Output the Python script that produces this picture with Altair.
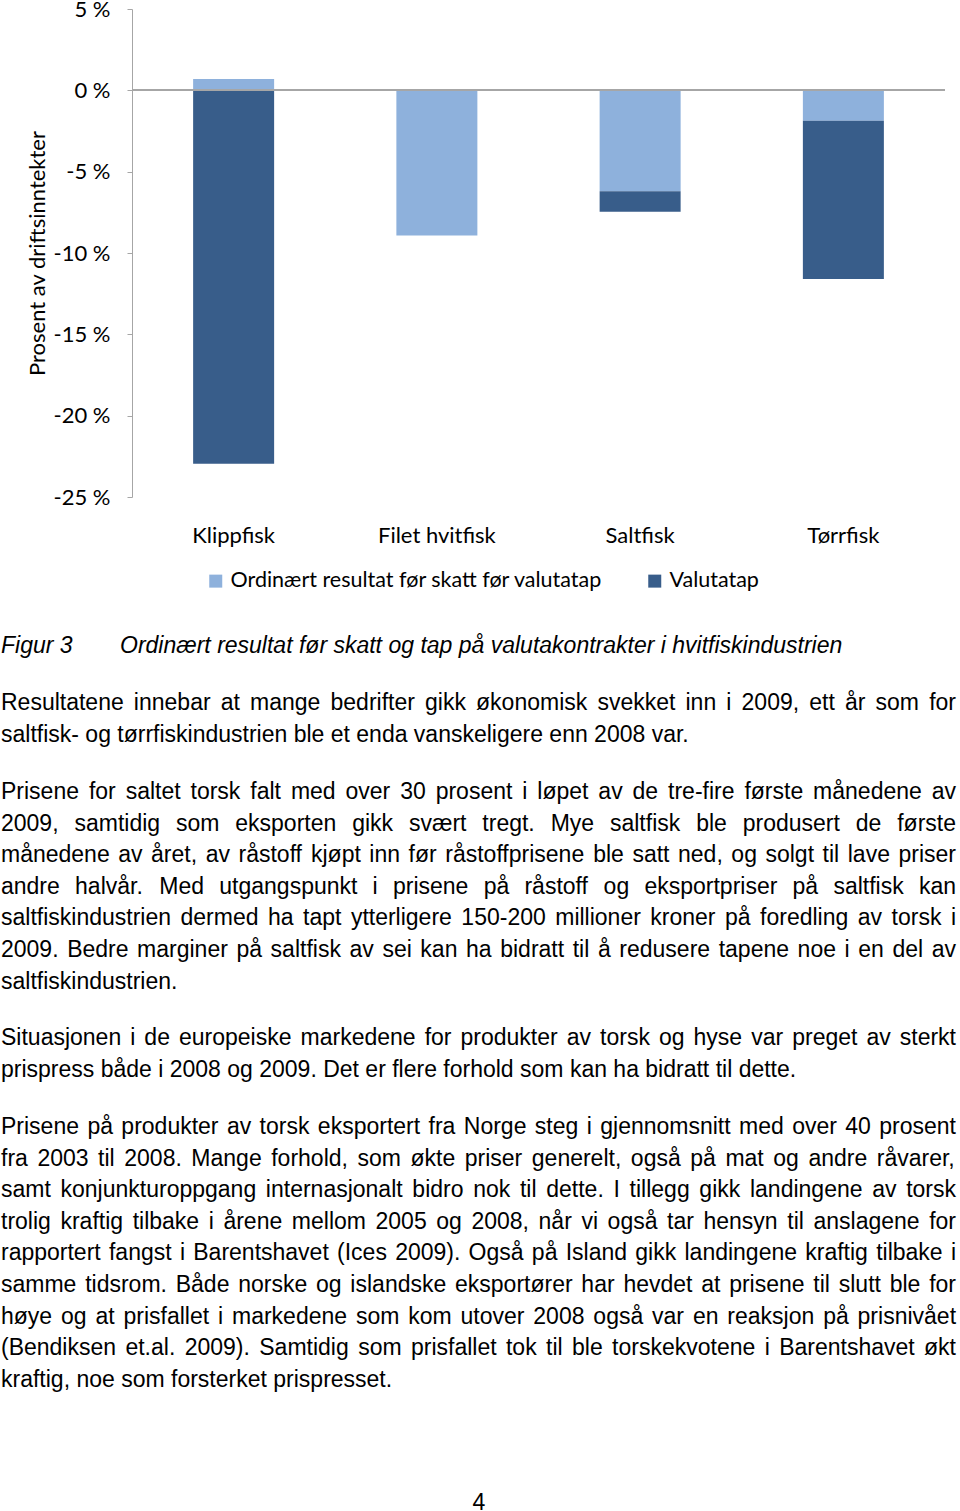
import altair as alt
import pandas as pd

# ---------------- data ----------------
categories = ["Klippfisk", "Filet hvitfisk", "Saltfisk", "Tørrfisk"]
series = ["Ordinært resultat før skatt før valutatap", "Valutatap"]
ordinaert = [0.7, -8.93, -6.2, -1.87]
valutatap = [-22.96, 0.0, -1.26, -9.73]
y_ticks = [5, 0, -5, -10, -15, -20, -25]
colors = ["#8EB1DC", "#385D8A"]

caption_label = "Figur 3"
caption_text = "Ordinært resultat før skatt og tap på valutakontrakter i hvitfiskindustrien"

paragraphs = [
    ["Resultatene innebar at mange bedrifter gikk økonomisk svekket inn i 2009, ett år som for",
     "saltfisk- og tørrfiskindustrien ble et enda vanskeligere enn 2008 var."],
    ["Prisene for saltet torsk falt med over 30 prosent i løpet av de tre-fire første månedene av",
     "2009, samtidig som eksporten gikk svært tregt. Mye saltfisk ble produsert de første",
     "månedene av året, av råstoff kjøpt inn før råstoffprisene ble satt ned, og solgt til lave priser",
     "andre halvår. Med utgangspunkt i prisene på råstoff og eksportpriser på saltfisk kan",
     "saltfiskindustrien dermed ha tapt ytterligere 150-200 millioner kroner på foredling av torsk i",
     "2009. Bedre marginer på saltfisk av sei kan ha bidratt til å redusere tapene noe i en del av",
     "saltfiskindustrien."],
    ["Situasjonen i de europeiske markedene for produkter av torsk og hyse var preget av sterkt",
     "prispress både i 2008 og 2009. Det er flere forhold som kan ha bidratt til dette."],
    ["Prisene på produkter av torsk eksportert fra Norge steg i gjennomsnitt med over 40 prosent",
     "fra 2003 til 2008. Mange forhold, som økte priser generelt, også på mat og andre råvarer,",
     "samt konjunkturoppgang internasjonalt bidro nok til dette. I tillegg gikk landingene av torsk",
     "trolig kraftig tilbake i årene mellom 2005 og 2008, når vi også tar hensyn til anslagene for",
     "rapportert fangst i Barentshavet (Ices 2009). Også på Island gikk landingene kraftig tilbake i",
     "samme tidsrom. Både norske og islandske eksportører har hevdet at prisene til slutt ble for",
     "høye og at prisfallet i markedene som kom utover 2008 også var en reaksjon på prisnivået",
     "(Bendiksen et.al. 2009). Samtidig som prisfallet tok til ble torskekvotene i Barentshavet økt",
     "kraftig, noe som forsterket prispresset."],
]
page_number = "4"

# ---------------- layout ----------------
PAD_L, PAD_T = 132, 9
W, H = 813, 488
TOTAL_W, TOTAL_H = 960, 1511
BODY_SIZE = 23
LINE_H = 31.6
TEXT_LEFT, TEXT_RIGHT = 1, 956
caption_baseline = 653
para_baselines = [710, 799, 1045, 1134]
page_baseline = 1510
page_center = 479
CHART_FONT = "Lato"

# Arial / Liberation Sans advance widths (per 1000 em)
AW = {' ': 278, '.': 278, ',': 278, '-': 333, '(': 333, ')': 333, ':': 278, ';': 278, '%': 889, '/': 278}
for d in "0123456789":
    AW[d] = 556
AW.update(dict(zip("ABCDEFGHIJKLMNOPQRSTUVWXYZ",
                   [667, 667, 722, 722, 667, 611, 778, 722, 278, 500, 667, 556, 833, 722, 778, 667, 778, 722, 667, 611, 722, 667, 944, 667, 667, 611])))
AW.update(dict(zip("abcdefghijklmnopqrstuvwxyz",
                   [556, 556, 500, 556, 556, 278, 556, 556, 222, 222, 500, 222, 833, 556, 556, 556, 556, 333, 500, 278, 556, 500, 722, 500, 500, 500])))
AW.update({'æ': 889, 'ø': 611, 'å': 556, 'é': 556, 'Æ': 1000, 'Ø': 778, 'Å': 667})


def tw(s, size=BODY_SIZE):
    return sum(AW.get(ch, 556) for ch in s) * size / 1000.0


words = []


def add_line(line, y_abs, justify, style="normal", left=TEXT_LEFT):
    parts = line.split(" ")
    widths = [tw(p) for p in parts]
    if justify and len(parts) > 1:
        gap = (TEXT_RIGHT - left - sum(widths)) / (len(parts) - 1)
    else:
        gap = tw(" ")
    x = left
    for p, w in zip(parts, widths):
        words.append(dict(word=p, x=x - PAD_L, y=y_abs - PAD_T, style=style))
        x += w + gap


add_line(caption_label, caption_baseline, False, "italic", TEXT_LEFT)
add_line(caption_text, caption_baseline, False, "italic", 120)
for para, base in zip(paragraphs, para_baselines):
    for i, line in enumerate(para):
        add_line(line, base + i * LINE_H, i < len(para) - 1)
add_line(page_number, page_baseline, False, "normal", page_center - tw(page_number) / 2)

words_df = pd.DataFrame(words)

rows = []
for i, c in enumerate(categories):
    rows.append(dict(cat=c, series=series[0], value=ordinaert[i], order=0))
    rows.append(dict(cat=c, series=series[1], value=valutatap[i], order=1))
df = pd.DataFrame(rows)

GRAY = "#A6A6A6"

bars = alt.Chart(df).mark_bar(size=81).encode(
    x=alt.X("cat:N", sort=categories,
            scale=alt.Scale(paddingInner=0, paddingOuter=0),
            axis=alt.Axis(title=None, domain=False, ticks=False, tickSize=0, labelAngle=0,
                          labelFont=CHART_FONT, labelFontSize=22, labelColor="black",
                          labelPadding=45, labelBaseline="alphabetic")),
    y=alt.Y("value:Q", stack="zero",
            scale=alt.Scale(domain=[-25, 5], nice=False, zero=False),
            axis=alt.Axis(values=y_ticks, labelExpr="datum.value + ' %'", grid=False,
                          domainColor=GRAY, tickColor=GRAY, tickSize=5, labelPadding=17,
                          labelFont=CHART_FONT, labelFontSize=22, labelColor="black",
                          title="Prosent av driftsinntekter", titleFont=CHART_FONT,
                          titleFontSize=22, titleFontWeight="normal", titleColor="black",
                          titleAngle=270, titleX=-95, titleY=244, titleAlign="center",
                          titleBaseline="middle")),
    color=alt.Color("series:N", scale=alt.Scale(domain=series, range=colors),
                    legend=alt.Legend(orient="none", legendX=73, legendY=561, direction="horizontal",
                                      title=None, symbolType="square", symbolSize=169,
                                      symbolStrokeWidth=0, labelFont=CHART_FONT, labelFontSize=21.5,
                                      labelColor="black", labelOffset=4, columnPadding=41,
                                      padding=0, labelLimit=500)),
    order=alt.Order("order:Q", sort="ascending"),
)

zero_rule = alt.Chart(df).mark_rule(color=GRAY, strokeWidth=1.5).encode(
    y=alt.datum(0), x=alt.value(0), x2=alt.value(W)
)

chart_part = alt.layer(bars, zero_rule)

text_base = alt.Chart(words_df).encode(
    x=alt.X("x:Q", scale=None, axis=None),
    y=alt.Y("y:Q", scale=None, axis=None),
    text="word:N",
)
body = text_base.transform_filter(alt.datum.style == "normal").mark_text(
    align="left", baseline="alphabetic", font="Liberation Sans", fontSize=BODY_SIZE, color="black")
italic = text_base.transform_filter(alt.datum.style == "italic").mark_text(
    align="left", baseline="alphabetic", font="Liberation Sans", fontSize=BODY_SIZE,
    fontStyle="italic", color="black")

chart = alt.layer(chart_part, body, italic).resolve_scale(x="independent", y="independent").properties(
    width=W, height=H,
    autosize=alt.AutoSizeParams(type="none"),
    padding={"left": PAD_L, "top": PAD_T, "right": TOTAL_W - PAD_L - W, "bottom": TOTAL_H - PAD_T - H},
    background="white",
).configure_view(strokeWidth=0)

chart.save("out.html", embed_options={"renderer": "svg", "actions": False})
